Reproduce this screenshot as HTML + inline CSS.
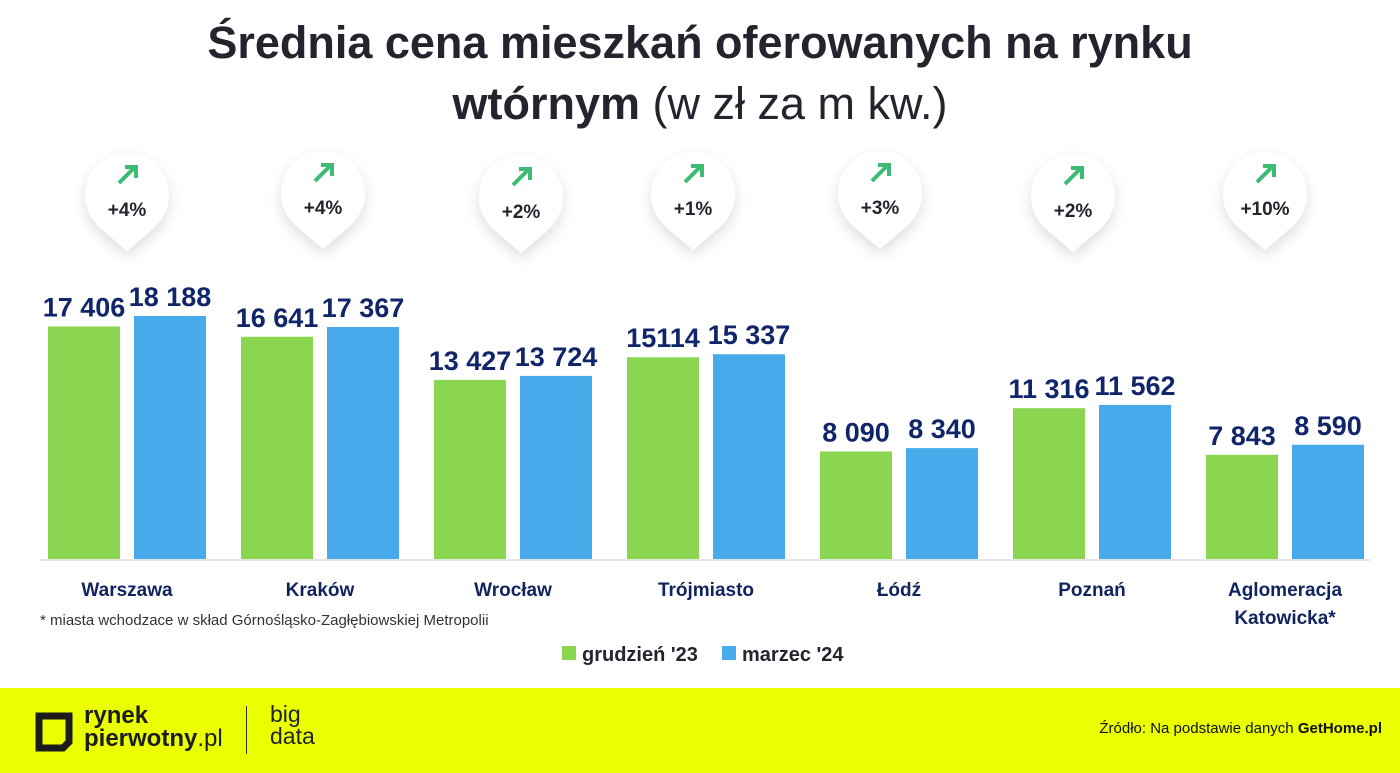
<!DOCTYPE html>
<html><head><meta charset="utf-8"><style>
body{margin:0;width:1400px;height:773px;background:#fff;overflow:hidden;font-family:"Liberation Sans",sans-serif;position:relative}
.t{position:absolute;left:0;width:1400px;text-align:center;color:#24242f;font-size:45px;font-weight:bold}
#footer{position:absolute;left:0;top:688px;width:1400px;height:85px;background:#eaff00}
</style></head><body>
<div class="t" style="top:17px">Średnia cena mieszkań oferowanych na rynku</div>
<div class="t" style="top:78px">wtórnym <span style="font-weight:normal">(w zł za m kw.)</span></div>
<svg id="chart" width="1400" height="688" style="position:absolute;left:0;top:0">
<defs><filter id="sh" x="-50%" y="-50%" width="200%" height="200%"><feDropShadow dx="0" dy="6" stdDeviation="7" flood-color="#000" flood-opacity="0.13"/></filter></defs>
</svg>
<div style="position:absolute;left:40px;top:612px;font-size:15px;color:#333">* miasta wchodzace w skład Górnośląsko-Zagłębiowskiej Metropolii</div>
<div id="footer">
<svg width="40" height="40" style="position:absolute;left:35px;top:24px"><path d="M4 4 H34 V30 L28 36 H4 Z" fill="none" stroke="#1c1c1c" stroke-width="7"/></svg>
<div style="position:absolute;left:84px;top:16px;font-size:24px;font-weight:bold;line-height:23px;color:#1c1c1c">rynek<br>pierwotny<span style="font-weight:normal">.pl</span></div>
<div style="position:absolute;left:246px;top:18px;width:1px;height:48px;background:#333"></div>
<div style="position:absolute;left:270px;top:15px;font-size:23px;line-height:22px;color:#222">big<br>data</div>
<div style="position:absolute;right:18px;top:32px;font-size:15px;color:#111">Źródło: Na podstawie danych <b>GetHome.pl</b></div>
</div>
<script>
const cities=["Warszawa","Kraków","Wrocław","Trójmiasto","Łódź","Poznań","Aglomeracja|Katowicka*"];
const dec23=[17406,16641,13427,15114,8090,11316,7843];
const mar24=[18188,17367,13724,15337,8340,11562,8590];
const labels23=["17 406","16 641","13 427","15114","8 090","11 316","7 843"];
const labels24=["18 188","17 367","13 724","15 337","8 340","11 562","8 590"];
const changes=["+4%","+4%","+2%","+1%","+3%","+2%","+10%"];
const NS="http://www.w3.org/2000/svg",svg=document.getElementById('chart');
const base=560,k=244/18188;
const y=v=>base-v*k;
const gx=i=>48+i*193;
function el(t,a,p){const e=document.createElementNS(NS,t);for(const q in a)e.setAttribute(q,a[q]);(p||svg).appendChild(e);return e;}
const bx=[127,323,521,693,880,1073,1265],by=[0,-2,2,-1,-2,1,-1];
cities.forEach((c,i)=>{
 const x=gx(i);
 const g1=el('rect',{x:x,y:y(dec23[i]),width:72,height:base-y(dec23[i]),fill:'#8ad650'});
 
 
 const b1=el('rect',{x:x+86,y:y(mar24[i]),width:72,height:base-y(mar24[i]),fill:'#47aaeb'});
 
 
 [[labels23[i],x+36,dec23[i]],[labels24[i],x+122,mar24[i]]].forEach(([s,cx,v])=>{
  const t=el('text',{x:cx,y:y(v)-10,'text-anchor':'middle','font-size':27,'font-weight':'bold',fill:'#10256a'});t.textContent=s;
  
  
 });
 const parts=c.split('|');
 parts.forEach((p,j)=>{const t=el('text',{x:x+79,y:596+j*28,'text-anchor':'middle','font-size':19,'font-weight':'bold',fill:'#10245f'});t.textContent=p;
  
  });
 const cx=bx[i],cy=195+by[i];
 const bg=el('g',{});
 
 
 el('path',{d:`M${cx-42} ${cy} A42 42 0 0 1 ${cx+42} ${cy} Q${cx+42} ${cy+18} ${cx+28} ${cy+32} L${cx} ${cy+56} L${cx-28} ${cy+32} Q${cx-42} ${cy+18} ${cx-42} ${cy} Z`,fill:'#fff',filter:'url(#sh)'},bg);
 el('path',{d:`M${cx-8} ${cy-12} L${cx+8} ${cy-28} M${cx-2} ${cy-28} H${cx+9} V${cy-17}`,stroke:'#3dbb74','stroke-width':4,fill:'none'},bg);
 const t=el('text',{x:cx,y:cy+21,'text-anchor':'middle','font-size':19,'font-weight':'bold',fill:'#24242f'},bg);t.textContent=changes[i];
});
el('line',{x1:40,x2:1370,y1:base,y2:base,stroke:'#e6e6e6','stroke-width':2});
[['grudzień \'23','#8ad650',562],['marzec \'24','#47aaeb',722]].forEach(([s,c,x])=>{
 const g=el('g',{});
 
 
 el('rect',{x:x,y:646,width:14,height:14,fill:c},g);
 const t=el('text',{x:x+20,y:661,'font-size':20,'font-weight':'bold',fill:'#24242f'},g);t.textContent=s;
});
</script>
</body></html>
